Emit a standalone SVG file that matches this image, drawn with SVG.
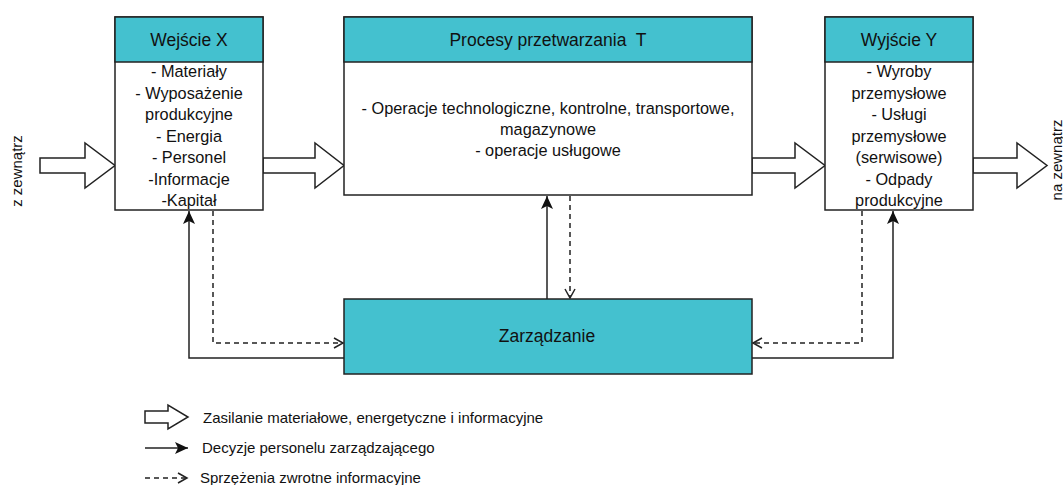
<svg xmlns="http://www.w3.org/2000/svg" width="1063" height="485" viewBox="0 0 1063 485">
<style>
text{font-family:"Liberation Sans",Arial,sans-serif;fill:#111}
.box{fill:#fff;stroke:#222;stroke-width:1.5}
.hdr{fill:#44c1cf;stroke:#222;stroke-width:1.5}
.h{font-size:17.5px;text-anchor:middle}
.b{font-size:16.3px;text-anchor:middle}
.lg{font-size:15px}
.sol{fill:none;stroke:#222;stroke-width:1.5}
.dash{fill:none;stroke:#222;stroke-width:1.5;stroke-dasharray:5,4}
.big{fill:#fff;stroke:#222;stroke-width:1.5;stroke-linejoin:miter}
</style>
<defs>
<marker id="fa" markerUnits="userSpaceOnUse" markerWidth="14" markerHeight="12" refX="13" refY="6" orient="auto">
<path d="M0,0 L13,6 L0,12 L3,6 z" fill="#111"/>
</marker>
<marker id="oa" markerUnits="userSpaceOnUse" markerWidth="12" markerHeight="12" refX="10" refY="6" orient="auto">
<path d="M1,1 L10,6 L1,11" fill="none" stroke="#222" stroke-width="1.5"/>
</marker>
</defs>

<g id="big-arrows">
<polygon class="big" points="40,158 85,158 85,143 115,165.5 85,188 85,173 40,173"/>
<polygon class="big" points="263,158 315,158 315,143 344,165.5 315,188 315,173 263,173"/>
<polygon class="big" points="752,158 795,158 795,143 825,165.5 795,188 795,173 752,173"/>
<polygon class="big" points="973,158 1017,158 1017,143 1047,165.5 1017,188 1017,173 973,173"/>
</g>

<g id="connectors">
<path class="sol" d="M344,358 H189 V211" marker-end="url(#fa)"/>
<path class="dash" d="M213,211 V343 H343" marker-end="url(#oa)"/>
<path class="sol" d="M547,299 V196" marker-end="url(#fa)"/>
<path class="dash" d="M570,196 V298" marker-end="url(#oa)"/>
<path class="dash" d="M862,211 V343 H753" marker-end="url(#oa)"/>
<path class="sol" d="M752,358 H893 V211" marker-end="url(#fa)"/>
</g>

<g id="node-wejscie">
<rect class="box" x="115" y="17" width="148" height="193"/>
<rect class="hdr" x="115" y="17" width="148" height="45"/>
<text class="h" x="189" y="46">Wejście X</text>
<text class="b" x="189" y="77">- Materiały</text>
<text class="b" x="189" y="98.5">- Wyposażenie</text>
<text class="b" x="189" y="120">produkcyjne</text>
<text class="b" x="189" y="141.5">- Energia</text>
<text class="b" x="189" y="163">- Personel</text>
<text class="b" x="189" y="184.5">-Informacje</text>
<text class="b" x="189" y="206">-Kapitał</text>
</g>

<g id="node-procesy">
<rect class="box" x="344" y="17" width="408" height="178"/>
<rect class="hdr" x="344" y="17" width="408" height="45"/>
<text class="h" x="548" y="46" xml:space="preserve">Procesy przetwarzania  T</text>
<text class="b" x="548" y="114">- Operacje technologiczne, kontrolne, transportowe,</text>
<text class="b" x="548" y="135">magazynowe</text>
<text class="b" x="548" y="156">- operacje usługowe</text>
</g>

<g id="node-wyjscie">
<rect class="box" x="825" y="17" width="148" height="193"/>
<rect class="hdr" x="825" y="17" width="148" height="45"/>
<text class="h" x="899" y="46">Wyjście Y</text>
<text class="b" x="899" y="77">- Wyroby</text>
<text class="b" x="899" y="98.5">przemysłowe</text>
<text class="b" x="899" y="120">- Usługi</text>
<text class="b" x="899" y="141.5">przemysłowe</text>
<text class="b" x="899" y="163">(serwisowe)</text>
<text class="b" x="899" y="184.5">- Odpady</text>
<text class="b" x="899" y="206">produkcyjne</text>
</g>

<g id="node-zarzadzanie">
<rect class="hdr" x="344" y="299" width="408" height="75"/>
<text class="h" x="547" y="342">Zarządzanie</text>
</g>

<g id="side-labels">
<text class="lg" text-anchor="middle" transform="translate(22,171) rotate(-90)">z zewnątrz</text>
<text class="lg" text-anchor="middle" transform="translate(1062,160) rotate(-90)">na zewnątrz</text>
</g>

<g id="legend">
<polygon class="big" points="145,411 168,411 168,405 188,417 168,429 168,423 145,423"/>
<text class="lg" x="203" y="423">Zasilanie materiałowe, energetyczne i informacyjne</text>
<path class="sol" d="M145,448 H188" marker-end="url(#fa)"/>
<text class="lg" x="202" y="453">Decyzje personelu zarządzającego</text>
<path class="dash" d="M145,478 H187" marker-end="url(#oa)"/>
<text class="lg" x="200" y="483">Sprzężenia zwrotne informacyjne</text>
</g>
</svg>
